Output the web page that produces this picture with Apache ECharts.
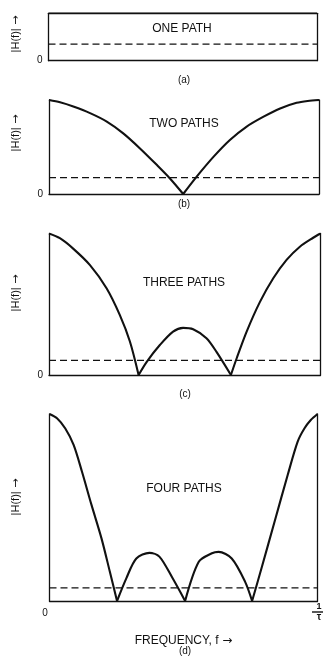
<!DOCTYPE html>
<html>
<head>
<meta charset="utf-8">
<script src="https://cdn.jsdelivr.net/npm/echarts@6/dist/echarts.min.js"></script>
<style>
  html, body { margin: 0; padding: 0; background: #fff; }
  #chart { width: 326px; height: 658px; }
</style>
</head>
<body>
<div id="chart"></div>
<script>
// |H(f)| over one period, frequency normalised so that 1 = 1/τ.
// Each entry is [f, |H(f)|]; nulls are the points where |H| = 0.
const onePath = [[0, 1], [1, 1]];

const twoPaths = [
  [0, 2.0], [0.041, 1.95], [0.090, 1.86], [0.152, 1.72], [0.214, 1.54],
  [0.275, 1.29], [0.337, 0.97], [0.399, 0.62], [0.448, 0.33], [0.497, 0],
  [0.547, 0.37], [0.609, 0.79], [0.670, 1.15], [0.731, 1.43], [0.793, 1.64],
  [0.856, 1.82], [0.917, 1.94], [0.958, 1.98], [1, 2.0]
];

const threePaths = [
  [0, 3.0], [0.040, 2.90], [0.089, 2.68], [0.151, 2.33], [0.212, 1.84],
  [0.261, 1.27], [0.298, 0.71], [0.330, 0],
  [0.360, 0.28], [0.409, 0.64], [0.457, 0.92], [0.494, 1.0], [0.531, 0.97],
  [0.580, 0.78], [0.617, 0.49], [0.670, 0],
  [0.691, 0.35], [0.728, 0.92], [0.777, 1.55], [0.826, 2.05], [0.875, 2.44],
  [0.924, 2.72], [0.973, 2.91], [1, 3.0]
];

const fourPaths = [
  [0, 4.0], [0.028, 3.91], [0.059, 3.69], [0.090, 3.34], [0.121, 2.77],
  [0.157, 2.05], [0.194, 1.34], [0.225, 0.63], [0.252, 0],
  [0.287, 0.49], [0.324, 0.91], [0.373, 1.03], [0.410, 0.95], [0.459, 0.49], [0.506, 0],
  [0.557, 0.84], [0.606, 1.02], [0.631, 1.05], [0.680, 0.91], [0.730, 0.41], [0.756, 0],
  [0.791, 0.70], [0.840, 1.70], [0.889, 2.70], [0.926, 3.41], [0.951, 3.69],
  [0.975, 3.87], [1, 4.0]
];

// Level of the dashed reference line in each panel
const dashedLevels = [0.35, 0.35, 0.31, 0.28];
// Top of each panel's |H| scale
const peakLevels = [1, 2, 3, 4];

const panelTitles = ['ONE PATH', 'TWO PATHS', 'THREE PATHS', 'FOUR PATHS'];
const panelCaptions = ['(a)', '(b)', '(c)', '(d)'];
const yAxisLabel = '|H(f)|';
const xAxisLabel = 'FREQUENCY, f';
const arrow = '→';
const zeroLabel = '0';
const endNumerator = '1';
const endDenominator = 'τ';

const curves = [onePath, twoPaths, threePaths, fourPaths];

// ---- layout (pixels) ----
const panelBoxes = [
  { left: 48.5, top: 13.3, width: 268.5, height: 47.4 },
  { left: 49,   top: 100,  width: 270,   height: 94 },
  { left: 49,   top: 233.5, width: 271.5, height: 141.5 },
  { left: 49.5, top: 414,  width: 270.5, height: 187 }
];
const titlePos   = [[182, 29], [184, 124], [184, 283], [184, 489]];
const captionPos = [[184, 80], [184, 204], [185, 394], [185, 651]];
const yLabelPos  = [[16, 34], [16, 133], [16, 293], [16, 497]];

const INK = '#111';
const FONT = '"Liberation Sans", Arial, sans-serif';
const ARROW_FONT = '"DejaVu Sans", sans-serif';

// Split a curve at its interior nulls so each lobe is smoothed on its own
// and the nulls stay sharp.
function splitLobes(pts) {
  const lobes = [];
  let cur = [];
  pts.forEach((p, i) => {
    cur.push(p);
    if (p[1] === 0 && i > 0 && i < pts.length - 1) {
      lobes.push(cur);
      cur = [p];
    }
  });
  lobes.push(cur);
  return lobes;
}

const grid = [], xAxis = [], yAxis = [], series = [];

panelBoxes.forEach((box, i) => {
  grid.push(Object.assign({ containLabel: false }, box));

  const isLast = i === panelBoxes.length - 1;
  xAxis.push({
    gridIndex: i, type: 'value', min: 0, max: 1, interval: 1,
    axisLine: { show: true, onZero: false, lineStyle: { color: INK, width: 1.3 } },
    axisTick: { show: false },
    splitLine: { show: false },
    axisLabel: {
      show: isLast,
      showMinLabel: true, showMaxLabel: true,
      margin: 2,
      formatter: v => v === 0 ? '{z|' + zeroLabel + '}'
                               : '{n|' + endNumerator + '}\n{b| }\n{d|' + endDenominator + '}',
      rich: {
        z: { fontSize: 10, fontFamily: FONT, color: INK, padding: [5, 9, 0, 0] },
        n: { fontSize: 9, fontFamily: FONT, fontWeight: 'bold', color: INK, lineHeight: 8, align: 'center', padding: [0, 0, 0, 3] },
        b: { width: 8, height: 1.4, lineHeight: 2, backgroundColor: INK, align: 'center', padding: [0, 0, 0, 3] },
        d: { fontSize: 10, fontFamily: FONT, fontWeight: 'bold', color: INK, lineHeight: 8, align: 'center', padding: [0, 0, 0, 3] }
      }
    },
    name: isLast ? '{t|' + xAxisLabel + '}{a| ' + arrow + '}' : '',
    nameLocation: 'middle',
    nameGap: 34,
    nameTextStyle: {
      rich: {
        t: { fontSize: 12, fontFamily: FONT, color: INK },
        a: { fontSize: 12, fontFamily: ARROW_FONT, color: INK }
      }
    }
  });

  const peak = peakLevels[i];
  const yBase = {
    gridIndex: i, type: 'value', min: 0, max: peak, interval: peak,
    axisLine: { show: true, onZero: false, lineStyle: { color: INK, width: 1.3 } },
    axisTick: { show: false },
    splitLine: { show: false }
  };
  yAxis.push(Object.assign({}, yBase, {
    position: 'left',
    axisLabel: {
      show: !isLast, margin: 6, fontSize: 10, fontFamily: FONT, color: INK,
      showMinLabel: true, showMaxLabel: false,
      formatter: v => v === 0 ? zeroLabel : ''
    }
  }));
  yAxis.push(Object.assign({}, yBase, { position: 'right', axisLabel: { show: false } }));

  splitLobes(curves[i]).forEach(lobe => {
    series.push({
      type: 'line', xAxisIndex: i, yAxisIndex: 2 * i,
      data: lobe, symbol: 'none', smooth: 0.3,
      lineStyle: { color: INK, width: 2.1 },
      silent: true, z: 3
    });
  });

  series.push({
    type: 'line', xAxisIndex: i, yAxisIndex: 2 * i,
    data: [[0, dashedLevels[i]], [1, dashedLevels[i]]],
    symbol: 'none',
    lineStyle: { color: INK, width: 1.3, type: [7, 4] },
    silent: true, z: 2
  });
});

const text = (x, y, str, size) => ({
  type: 'text', x, y, silent: true,
  style: { text: str, fill: INK, font: size + 'px ' + FONT, align: 'center', verticalAlign: 'middle' }
});

const graphic = [];
panelTitles.forEach((t, i) => graphic.push(text(titlePos[i][0], titlePos[i][1], t, 12)));
panelCaptions.forEach((t, i) => graphic.push(text(captionPos[i][0], captionPos[i][1], t, 10)));
yLabelPos.forEach(p => graphic.push({
  type: 'text', x: p[0], y: p[1], rotation: Math.PI / 2, silent: true,
  style: {
    text: '{t|' + yAxisLabel + '}{a| ' + arrow + '}',
    align: 'center', verticalAlign: 'middle',
    rich: {
      t: { fontSize: 11, fontFamily: FONT, fill: INK, color: INK },
      a: { fontSize: 11, fontFamily: ARROW_FONT, fill: INK, color: INK }
    }
  }
}));

const chart = echarts.init(document.getElementById('chart'), null, { renderer: 'canvas' });
chart.setOption({
  animation: false,
  backgroundColor: '#fff',
  grid, xAxis, yAxis, series, graphic
});
</script>
</body>
</html>
